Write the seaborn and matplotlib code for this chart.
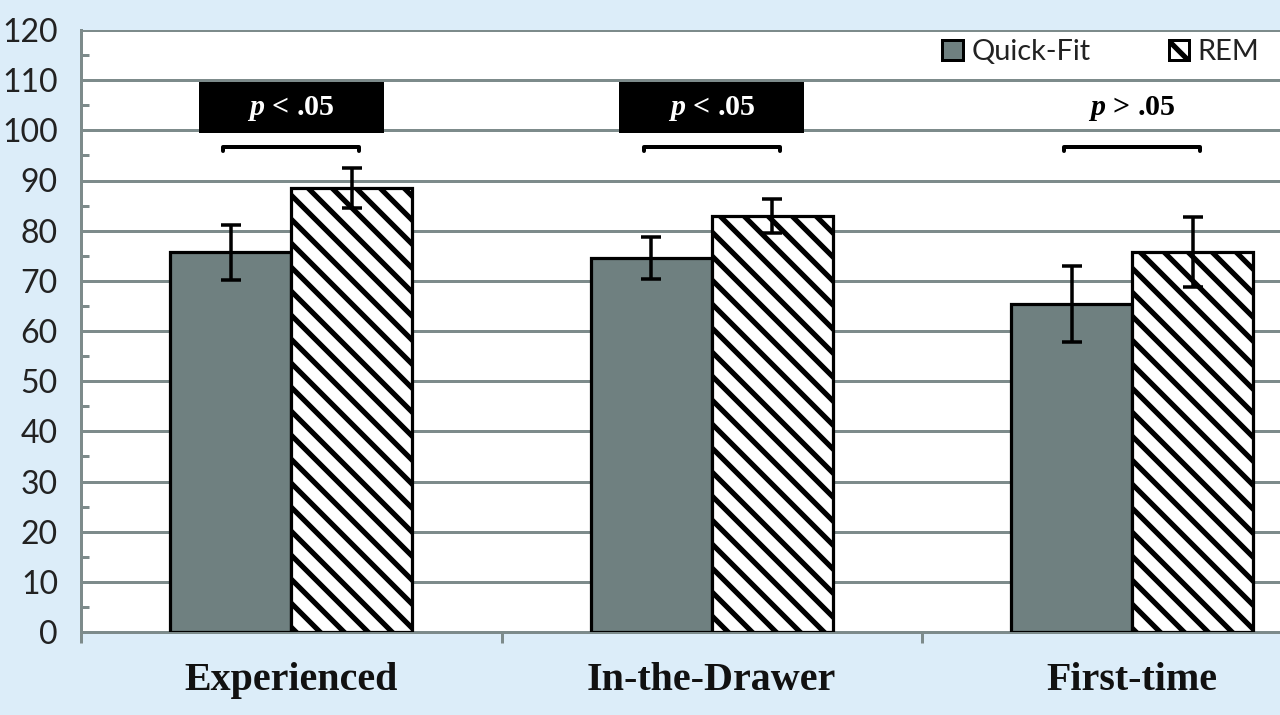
import pandas as pd
import numpy as np
import seaborn as sns
import matplotlib.pyplot as plt
from matplotlib.patches import Patch, Rectangle

# Data
conditions = ['Experienced', 'In-the-Drawer', 'First-time']
methods = ['Quick-Fit', 'REM']
quickfit_mean = [75.7, 74.5, 65.4]
rem_mean = [88.5, 82.9, 75.7]
quickfit_err = [5.5, 4.2, 7.6]
rem_err = [3.9, 3.4, 7.0]
p_labels = ['$p$ < .05', '$p$ < .05', '$p$ > .05']
p_significant = [True, True, False]

df = pd.DataFrame({
    'condition': conditions * 2,
    'method': [methods[0]] * 3 + [methods[1]] * 3,
    'score': quickfit_mean + rem_mean,
})

# Styling
BG = '#dcedf9'
GRID = '#7d8b8b'
BAR_GRAY = '#6f8080'

sns.set_style('white')
plt.rcParams['hatch.linewidth'] = 5.2
plt.rcParams['mathtext.fontset'] = 'custom'
plt.rcParams['mathtext.it'] = 'Liberation Serif:italic:bold'
plt.rcParams['mathtext.rm'] = 'Liberation Serif:bold'

DPI = 72
fig = plt.figure(figsize=(1280 / DPI, 715 / DPI), dpi=DPI, facecolor=BG)
ax = fig.add_axes([81 / 1280, 83 / 715, 1261.5 / 1280, 602 / 715])
ax.set_facecolor('white')

sns.barplot(data=df, x='condition', y='score', hue='method',
            palette=[BAR_GRAY, 'white'], saturation=1, edgecolor='black',
            linewidth=3.2, width=0.576, gap=0, errorbar=None, legend=False,
            zorder=3, ax=ax)

for bar in ax.containers[1]:
    bar.set_hatch('\\')

# Error bars
for cont, errs in zip(ax.containers, [quickfit_err, rem_err]):
    for bar, e in zip(cont, errs):
        ax.errorbar(bar.get_x() + bar.get_width() / 2, bar.get_height(), yerr=e,
                    fmt='none', ecolor='black', elinewidth=3.5, capsize=10,
                    capthick=3.5, zorder=5)

# Significance annotations
for i, (lab, sig) in enumerate(zip(p_labels, p_significant)):
    if sig:
        ax.add_patch(Rectangle((i - 0.22, 99.5), 0.44, 10.1, facecolor='black',
                               edgecolor='none', zorder=4))
    ax.text(i, 104.4, lab, ha='center', va='center', fontsize=30,
            fontweight='bold', family='Liberation Serif',
            color='white' if sig else 'black', zorder=6)
    w = 0.162
    ax.plot([i - w, i - w, i + w, i + w], [95.9, 96.6, 96.6, 95.9],
            color='black', lw=4, solid_capstyle='round',
            solid_joinstyle='round', zorder=6)

# Axes
ax.set_ylim(0, 120)
ax.set_xlim(-0.5, 2.5)
ax.set_yticks(np.arange(0, 121, 10))
ax.set_yticks(np.arange(5, 120, 10), minor=True)
ax.set_xticks([-0.5, 0.5, 1.5], minor=True)
ax.yaxis.grid(True, color=GRID, lw=3, zorder=0)
ax.set_axisbelow(True)
ax.set_xlabel('')
ax.set_ylabel('')
for s in ['top', 'right']:
    ax.spines[s].set_visible(False)
for s in ['left', 'bottom']:
    ax.spines[s].set_color(GRID)
    ax.spines[s].set_linewidth(3)

ax.tick_params(axis='y', which='major', direction='out', length=11, width=3,
               color=GRID, pad=12, labelsize=32, labelcolor='#222222')
ax.tick_params(axis='y', which='minor', direction='in', length=8, width=3,
               color=GRID, left=True)
ax.tick_params(axis='x', which='major', length=0, pad=30)
ax.tick_params(axis='x', which='minor', direction='out', length=11, width=3,
               color=GRID, bottom=True)
for t in ax.get_yticklabels():
    t.set_family('Lato')
for t in ax.get_xticklabels():
    t.set_family('Liberation Serif')
    t.set_fontweight('bold')
    t.set_fontsize(40)
    t.set_color('#111111')

# Legend
handles = [Patch(facecolor=BAR_GRAY, edgecolor='black', linewidth=3),
           Patch(facecolor='white', edgecolor='black', linewidth=3, hatch='\\')]
leg = ax.legend(handles, methods, ncol=2, loc='center',
                bbox_to_anchor=(1101 / 1280, 1 - 52 / 715),
                bbox_transform=fig.transFigure, frameon=False,
                prop={'family': 'Lato', 'size': 29}, handlelength=0.7,
                handleheight=0.7, handletextpad=0.3, columnspacing=2.7)
for t in leg.get_texts():
    t.set_color('#222222')

fig.savefig('out.png', dpi=DPI, facecolor=BG)
